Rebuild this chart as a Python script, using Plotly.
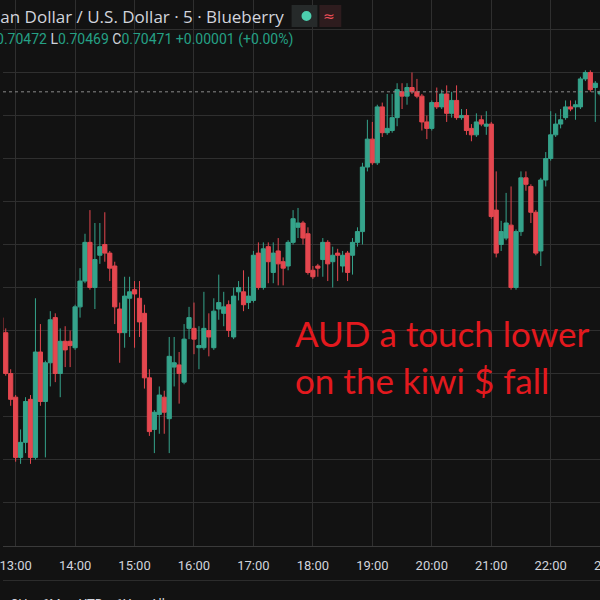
import pandas as pd
import plotly.graph_objects as go

# ---- data (AUD/USD 5-minute candles) ----
start_time = "2021-06-01 12:45"
open_ = [0.70366,0.70359,0.70340,0.70329,0.70301,0.70308,0.70328,0.70301,0.70350,0.70327,
         0.70345,0.70366,0.70340,0.70355,0.70355,0.70352,0.70371,0.70383,0.70401,0.70380,
         0.70395,0.70400,0.70396,0.70390,0.70370,0.70359,0.70375,0.70379,0.70375,0.70368,
         0.70338,0.70314,0.70321,0.70329,0.70319,0.70343,0.70344,0.70336,0.70361,0.70361,
         0.70352,0.70352,0.70360,0.70352,0.70370,0.70368,0.70372,0.70357,0.70378,0.70378,
         0.70373,0.70374,0.70396,0.70380,0.70399,0.70387,0.70397,0.70392,0.70390,0.70401,
         0.70408,0.70410,0.70405,0.70388,0.70390,0.70393,0.70401,0.70392,0.70396,0.70390,
         0.70396,0.70395,0.70401,0.70406,0.70436,0.70449,0.70438,0.70464,0.70452,0.70453,
         0.70459,0.70471,0.70469,0.70473,0.70471,0.70469,0.70457,0.70454,0.70466,0.70464,
         0.70470,0.70461,0.70467,0.70459,0.70460,0.70454,0.70451,0.70458,0.70455,0.70456,
         0.70416,0.70400,0.70403,0.70409,0.70380,0.70406,0.70431,0.70427,0.70415,0.70397,
         0.70430,0.70440,0.70451,0.70456,0.70459,0.70464,0.70464,0.70464,0.70477,0.70480,
         0.70473,0.70470]
high = [0.70369,0.70361,0.70342,0.70330,0.70314,0.70329,0.70330,0.70375,0.70363,0.70346,
        0.70369,0.70368,0.70361,0.70362,0.70360,0.70372,0.70389,0.70405,0.70416,0.70410,
        0.70410,0.70415,0.70397,0.70392,0.70373,0.70385,0.70385,0.70383,0.70383,0.70372,
        0.70342,0.70323,0.70334,0.70332,0.70357,0.70357,0.70350,0.70363,0.70371,0.70373,
        0.70362,0.70378,0.70368,0.70375,0.70386,0.70378,0.70374,0.70380,0.70383,0.70388,
        0.70385,0.70397,0.70401,0.70401,0.70401,0.70401,0.70403,0.70394,0.70402,0.70416,
        0.70417,0.70411,0.70408,0.70390,0.70391,0.70403,0.70402,0.70399,0.70398,0.70397,
        0.70397,0.70403,0.70408,0.70438,0.70458,0.70457,0.70465,0.70466,0.70470,0.70470,
        0.70475,0.70475,0.70475,0.70480,0.70477,0.70470,0.70460,0.70467,0.70473,0.70472,
        0.70474,0.70471,0.70474,0.70463,0.70463,0.70456,0.70461,0.70460,0.70462,0.70457,
        0.70434,0.70411,0.70424,0.70427,0.70407,0.70434,0.70434,0.70428,0.70416,0.70431,
        0.70443,0.70462,0.70461,0.70463,0.70467,0.70467,0.70467,0.70478,0.70481,0.70481,
        0.70476,0.70472]
low = [0.70358,0.70339,0.70325,0.70299,0.70298,0.70303,0.70298,0.70300,0.70325,0.70301,
       0.70334,0.70336,0.70329,0.70343,0.70343,0.70351,0.70366,0.70382,0.70379,0.70370,
       0.70391,0.70392,0.70383,0.70363,0.70345,0.70352,0.70357,0.70352,0.70357,0.70333,
       0.70311,0.70303,0.70312,0.70312,0.70303,0.70334,0.70326,0.70335,0.70356,0.70349,
       0.70342,0.70351,0.70348,0.70351,0.70365,0.70362,0.70357,0.70356,0.70374,0.70369,
       0.70370,0.70373,0.70379,0.70379,0.70382,0.70382,0.70381,0.70381,0.70388,0.70400,
       0.70403,0.70400,0.70386,0.70384,0.70385,0.70385,0.70383,0.70380,0.70383,0.70387,
       0.70383,0.70386,0.70399,0.70400,0.70434,0.70437,0.70437,0.70450,0.70451,0.70452,
       0.70455,0.70463,0.70465,0.70470,0.70468,0.70453,0.70449,0.70453,0.70463,0.70463,
       0.70457,0.70459,0.70458,0.70458,0.70451,0.70448,0.70450,0.70455,0.70451,0.70412,
       0.70394,0.70397,0.70402,0.70379,0.70379,0.70404,0.70425,0.70410,0.70395,0.70390,
       0.70427,0.70439,0.70450,0.70454,0.70458,0.70462,0.70458,0.70463,0.70476,0.70471,
       0.70457,0.70469]
close = [0.70359,0.70340,0.70328,0.70301,0.70308,0.70327,0.70301,0.70350,0.70327,0.70345,
         0.70365,0.70340,0.70355,0.70351,0.70353,0.70371,0.70383,0.70401,0.70380,0.70393,
         0.70399,0.70396,0.70389,0.70371,0.70359,0.70376,0.70378,0.70377,0.70364,0.70338,
         0.70313,0.70322,0.70330,0.70322,0.70348,0.70345,0.70340,0.70356,0.70366,0.70356,
         0.70353,0.70361,0.70357,0.70369,0.70373,0.70371,0.70360,0.70376,0.70380,0.70372,
         0.70376,0.70395,0.70380,0.70398,0.70392,0.70396,0.70391,0.70389,0.70401,0.70412,
         0.70410,0.70403,0.70387,0.70385,0.70389,0.70401,0.70391,0.70395,0.70395,0.70395,
         0.70387,0.70401,0.70406,0.70436,0.70449,0.70438,0.70464,0.70452,0.70454,0.70459,
         0.70472,0.70469,0.70473,0.70471,0.70469,0.70457,0.70454,0.70466,0.70464,0.70470,
         0.70461,0.70467,0.70459,0.70460,0.70453,0.70451,0.70457,0.70456,0.70456,0.70413,
         0.70396,0.70406,0.70410,0.70380,0.70406,0.70431,0.70428,0.70415,0.70396,0.70430,
         0.70440,0.70451,0.70456,0.70458,0.70464,0.70463,0.70465,0.70477,0.70480,0.70472,
         0.70475,0.70471]
hour_labels = ["13:00", "14:00", "15:00", "16:00", "17:00", "18:00", "19:00", "20:00",
               "21:00", "22:00", "23:00"]
toolbar_labels = ["3H", "6M", "YTD", "1Y", "All"]
title_text = "Australian Dollar / U.S. Dollar · 5 · Blueberry"
annotation_lines = ["AUD a touch lower", "on the kiwi $ fall"]

times = pd.date_range(start=start_time, periods=len(open_), freq="5min")

BG = "#121212"
GRID = "#2f2f2f"
UP = "#35a38b"
DN = "#e4474f"
TXT = "#d1d4dc"
VAL = "#25a085"
PLOT_H = 546  # plot area height in px (paper)

def py(y_px):
    return (PLOT_H - y_px) / PLOT_H

fig = go.Figure(go.Candlestick(
    x=times, open=open_, high=high, low=low, close=close,
    increasing=dict(line=dict(color=UP, width=1), fillcolor=UP),
    decreasing=dict(line=dict(color=DN, width=1), fillcolor=DN),
    whiskerwidth=0, hoverinfo="skip", showlegend=False,
))

tick_vals = pd.date_range(start="2021-06-01 13:00", periods=10, freq="1h")
fig.update_xaxes(
    range=["2021-06-01 12:47:15", "2021-06-01 22:49:45"],
    rangeslider=dict(visible=False),
    tickvals=tick_vals, ticktext=hour_labels[:10],
    showgrid=True, gridcolor=GRID, gridwidth=1,
    showline=True, linecolor="#3a3a3a", linewidth=1,
    ticks="", ticklabelstandoff=7, ticklabeloverflow="allow",
    tickfont=dict(family="Roboto", size=13, color=TXT),
    zeroline=False, fixedrange=True,
)
fig.update_yaxes(
    range=[0.702598, 0.705137], dtick=0.0002, tick0=0.7,
    showgrid=True, gridcolor=GRID, gridwidth=1,
    showticklabels=False, zeroline=False, fixedrange=True,
)

last_o, last_h, last_l, last_c = open_[-1], high[-1], low[-1], close[-1]
chg = last_c - last_o
ohlc_text = (f"O<span style='color:{VAL}'>{last_o:.5f}</span> "
             f"H<span style='color:{VAL}'>{last_h:.5f}</span> "
             f"L<span style='color:{VAL}'>{last_l:.5f}</span> "
             f"C<span style='color:{VAL}'>{last_c:.5f}</span> "
             f"<span style='color:{VAL}'>{chg:+.5f} ({chg / last_o * 100:+.2f}%)</span>")

annotations = [
    dict(text=title_text, x=284 / 600, y=py(16), xanchor="right", yanchor="middle",
         font=dict(family="Open Sans", size=17, color=TXT)),
    dict(text=ohlc_text, x=293 / 600, y=py(40), xanchor="right", yanchor="middle",
         font=dict(family="Roboto", size=14, color=TXT)),
    dict(text="≈", x=328 / 600, y=py(16), xanchor="center", yanchor="middle",
         font=dict(family="DejaVu Sans", size=14, color="#f0505a")),
    dict(text=annotation_lines[0], x=291 / 600, y=py(333), xanchor="left", yanchor="middle",
         font=dict(family="Lato", size=35, color="#e3191e")),
    dict(text=annotation_lines[1], x=291 / 600, y=py(380), xanchor="left", yanchor="middle",
         font=dict(family="Lato", size=35, color="#e3191e")),
    dict(text=hour_labels[10], x=610 / 600, y=py(565), xanchor="center", yanchor="middle",
         font=dict(family="Roboto", size=13, color=TXT)),
]
for lab, cx in zip(toolbar_labels, [17, 49, 88, 121, 155]):
    annotations.append(dict(text=lab, x=cx / 600, y=py(603), xanchor="center",
                            yanchor="middle",
                            font=dict(family="Roboto", size=13, color=TXT)))
for a in annotations:
    a.update(xref="paper", yref="paper", showarrow=False)

shapes = [
    # last price dotted line
    dict(type="line", xref="paper", yref="y", x0=0, x1=1, y0=last_c, y1=last_c,
         line=dict(color="#8a8a8a", width=1, dash="dot")),
    # separator under time axis
    dict(type="line", xref="paper", yref="paper", x0=0, x1=1, y0=py(580.5), y1=py(580.5),
         line=dict(color="#2c2c2c", width=1)),
    # status pills
    dict(type="rect", xref="paper", yref="paper", x0=290 / 600, x1=316 / 600,
         y0=py(27), y1=py(5), fillcolor="#262a2a", line=dict(width=0)),
    dict(type="circle", xref="paper", yref="paper", x0=300 / 600, x1=310 / 600,
         y0=py(21), y1=py(11), fillcolor="#4ccfae", line=dict(width=0)),
    dict(type="rect", xref="paper", yref="paper", x0=318 / 600, x1=340 / 600,
         y0=py(27), y1=py(5), fillcolor="#2e1c1e", line=dict(width=0)),
]

fig.update_layout(
    width=600, height=600,
    margin=dict(l=0, r=0, t=0, b=600 - PLOT_H),
    paper_bgcolor=BG, plot_bgcolor=BG,
    boxgap=0.15, boxgroupgap=0,
    annotations=annotations, shapes=shapes,
    showlegend=False,
)

fig.write_html("out.html", config={"displayModeBar": False},
               post_script="document.body.style.margin='0';")
